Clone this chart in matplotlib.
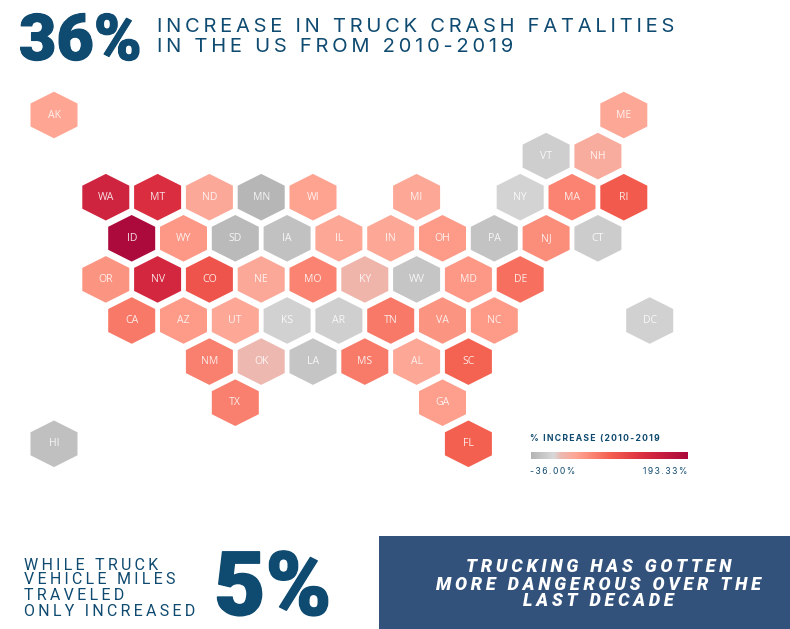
import numpy as np
import matplotlib
matplotlib.use("Agg")
import matplotlib.pyplot as plt
import matplotlib.patheffects as pe
from matplotlib.colors import LinearSegmentedColormap, Normalize
from matplotlib.patches import Rectangle

STATES = ["AK", "ME",
          "VT", "NH",
          "WA", "MT", "ND", "MN", "WI", "MI", "NY", "MA", "RI",
          "ID", "WY", "SD", "IA", "IL", "IN", "OH", "PA", "NJ", "CT",
          "OR", "NV", "CO", "NE", "MO", "KY", "WV", "MD", "DE",
          "CA", "AZ", "UT", "KS", "AR", "TN", "VA", "NC", "DC",
          "NM", "OK", "LA", "MS", "AL", "SC",
          "TX", "GA",
          "HI", "FL"]
GRID_COL = [0, 22,
            19, 21,
            2, 4, 6, 8, 10, 14, 18, 20, 22,
            3, 5, 7, 9, 11, 13, 15, 17, 19, 21,
            2, 4, 6, 8, 10, 12, 14, 16, 18,
            3, 5, 7, 9, 11, 13, 15, 17, 23,
            6, 8, 10, 12, 14, 16,
            7, 15,
            0, 16]
GRID_ROW = [0, 0,
            1, 1,
            2, 2, 2, 2, 2, 2, 2, 2, 2,
            3, 3, 3, 3, 3, 3, 3, 3, 3, 3,
            4, 4, 4, 4, 4, 4, 4, 4, 4,
            5, 5, 5, 5, 5, 5, 5, 5, 5,
            6, 6, 6, 6, 6, 6,
            7, 7,
            8, 8]
INCREASE = [30, 28,
            -12, 22,
            145, 128, 26, -34, 32, 28, -8, 55, 85,
            193.33, 40, -30, -24, 28, 28, 38, -22, 48, -14,
            42, 138, 92, 26, 55, 12, -20, 40, 68,
            62, 38, 28, -10, -11, 62, 42, 38, -10,
            58, 8, -20, 60, 28, 78,
            58, 35,
            -25, 80]
VMIN = -36.0
VMAX = 193.33
NAVY = "#0f4a70"

HAIR = "\u200a"


def spaced(text, n):
    return (HAIR * n).join(text)


def make_cmap():
    stops = [(-36, "#b4b4b4"), (-3, "#d9d9d9"), (8, "#ecb8b0"), (30, "#ffa593"),
             (80, "#f4604f"), (130, "#d92c40"), (193.33, "#ac0a3c")]
    return LinearSegmentedColormap.from_list(
        "crash", [((v - VMIN) / (VMAX - VMIN), c) for v, c in stops])


def draw_map(fig, cmap, norm):
    # one col = 25.9px, one row = 41.1px, AK sits at pixel (54, 115)
    ax = fig.add_axes([0, 0, 1, 1])
    ax.set_xlim(-54 / 25.9, (790 - 54) / 25.9)
    ax.set_ylim((629 - 115) / 41.1, -115 / 41.1)
    ax.axis("off")
    hx = 23.5 / 25.9
    hy = 23.3 / 41.1
    sh = 11.5 / 41.1
    for st, c, r, v in zip(STATES, GRID_COL, GRID_ROW, INCREASE):
        ax.fill([c, c + hx, c + hx, c, c - hx, c - hx],
                [r - hy, r - sh, r + sh, r + hy, r + sh, r - sh],
                color=cmap(norm(v)), lw=0)
        ax.text(c, r, st, color="white", alpha=0.85, fontsize=7.6, ha="center",
                va="center", family="Open Sans")
    return ax


def draw_legend(fig, cmap):
    cax = fig.add_axes([531 / 790, 1 - 459 / 629, 157 / 790, 7 / 629])
    cax.imshow(np.linspace(0, 1, 256)[None, :], aspect="auto", cmap=cmap)
    cax.axis("off")
    fam = ["Inter", "DejaVu Sans"]
    fig.text(530 / 790, 1 - 439 / 629, spaced("% INCREASE (2010-2019", 2), color=NAVY,
             fontsize=6.2, va="center", family=fam, weight="bold")
    fig.text(530 / 790, 1 - 471 / 629, spaced("-36.00%", 2), color=NAVY,
             fontsize=6.2, va="center", family=fam)
    fig.text(687 / 790, 1 - 471 / 629, spaced("193.33%", 2), color=NAVY, ha="right",
             fontsize=6.2, va="center", family=fam)


def draw_headlines(fig):
    roboto = ["Roboto", "DejaVu Sans"]
    inter = ["Inter", "DejaVu Sans"]
    fig.text(19 / 790, 1 - 60 / 629, "36%", color=NAVY, fontsize=46.5, weight="black",
             family="Roboto", va="baseline",
             path_effects=[pe.withStroke(linewidth=0.8, foreground=NAVY)])
    fig.text(157 / 790, 1 - 26.5 / 629, spaced("INCREASE IN TRUCK CRASH FATALITIES", 2),
             color=NAVY, fontsize=14.5, va="center", family=inter)
    fig.text(157 / 790, 1 - 46.5 / 629, spaced("IN THE US FROM 2010-2019", 2),
             color=NAVY, fontsize=14.5, va="center", family=inter)

    for y, line in zip([565, 580, 595, 611],
                       ["WHILE TRUCK", "VEHICLE MILES", "TRAVELED", "ONLY INCREASED"]):
        fig.text(24 / 790, 1 - y / 629, spaced(line, 2), color=NAVY, fontsize=11.5,
                 va="center", family=roboto)
    fig.text(214 / 790, 1 - 615 / 629, "5%", color=NAVY, fontsize=64, weight="black",
             family="Roboto", va="baseline",
             path_effects=[pe.withStroke(linewidth=1.0, foreground=NAVY)])

    fig.add_artist(Rectangle((379 / 790, 0), 411 / 790, 93 / 629, color="#32527b",
                             transform=fig.transFigure, lw=0))
    for y, line in zip([567.5, 584.5, 601.5],
                       ["TRUCKING HAS GOTTEN", "MORE DANGEROUS OVER THE", "LAST DECADE"]):
        fig.text(598.5 / 790, 1 - y / 629, spaced(line, 2), color="white", fontsize=13,
                 weight="black", style="italic", ha="center", va="center", family=roboto)


def main():
    fig = plt.figure(figsize=(7.9, 6.29), dpi=100, facecolor="white")
    cmap = make_cmap()
    norm = Normalize(VMIN, VMAX)
    draw_map(fig, cmap, norm)
    draw_legend(fig, cmap)
    draw_headlines(fig)
    fig.savefig("out.png", dpi=100)


if __name__ == "__main__":
    main()
